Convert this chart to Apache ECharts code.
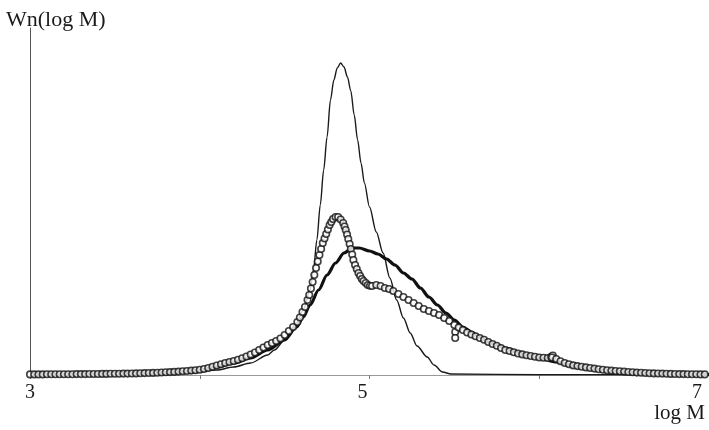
<!DOCTYPE html>
<html>
<head>
<meta charset="utf-8">
<script src="https://cdn.jsdelivr.net/npm/echarts@6/dist/echarts.min.js"></script>
<style>html,body{margin:0;padding:0;background:#fff}#c{width:709px;height:430px}</style>
</head>
<body>
<div id="c"></div>
<script>
// x tick labels
var xTickLabels = [3, 5, 7];

// Thin curve (narrow distribution)
var thinX = [3.0, 3.5, 3.8, 3.94, 4.10, 4.20, 4.30, 4.40, 4.44, 4.50, 4.57, 4.61, 4.65, 4.67, 4.69, 4.71, 4.73, 4.75, 4.77, 4.79, 4.81, 4.83, 4.85, 4.87, 4.89, 4.91, 4.93, 4.95, 4.97, 5.00, 5.04, 5.08, 5.12, 5.16, 5.20, 5.24, 5.28, 5.34, 5.38, 5.43, 5.48, 6.0, 7.0];
var thinY = [0.3, 0.5, 1, 2, 5, 8, 12, 20, 25, 35, 52, 65, 85, 105, 135, 170, 205, 238, 275, 295, 307, 312, 308, 298, 284, 260, 235, 212, 192, 168, 143, 122, 97, 75, 57, 42, 29, 18, 10, 3, 1, 0.3, 0.2];

// Thick curve (broad distribution)
var thickX = [3.0, 3.2, 3.4, 3.6, 3.8, 3.9, 4.0, 4.1, 4.2, 4.3, 4.4, 4.5, 4.57, 4.61, 4.65, 4.70, 4.75, 4.80, 4.85, 4.90, 4.94, 5.00, 5.05, 5.10, 5.15, 5.20, 5.25, 5.30, 5.35, 5.40, 5.45, 5.50, 5.55, 5.60, 5.65, 5.70, 5.75, 5.80, 5.90, 6.00, 6.10, 6.20, 6.30, 6.40, 6.50, 6.60, 6.70, 6.80, 6.90, 7.00];
var thickY = [0.5, 0.7, 1.0, 1.6, 2.6, 3.3, 5, 8, 12, 17, 25, 35, 48, 58, 70, 85, 100, 112, 122, 127, 127, 124, 121, 116, 110, 102, 96, 87, 78, 70, 62, 55, 48, 43, 38, 33, 30, 27, 21, 17, 13, 9, 6.5, 4.5, 3.2, 2.2, 1.5, 1.0, 0.7, 0.5];

// Circles (measured distribution)
var circX = [
  3.000, 3.025, 3.050, 3.075, 3.100, 3.125, 3.150, 3.175, 3.200, 3.225, 3.250, 3.275, 3.300, 3.325, 3.350, 3.375, 3.400, 3.425, 3.450, 3.475,
  3.500, 3.525, 3.550, 3.575, 3.600, 3.625, 3.650, 3.675, 3.700, 3.725, 3.750, 3.775, 3.800, 3.825, 3.850, 3.875, 3.900, 3.925, 3.950, 3.975,
  4.000, 4.025, 4.050, 4.075, 4.100, 4.125, 4.150, 4.175, 4.200, 4.225, 4.250, 4.275, 4.300, 4.325, 4.350, 4.375, 4.400, 4.425, 4.450, 4.475,
  4.500, 4.525, 4.550, 4.575, 4.590, 4.605, 4.620, 4.635, 4.645, 4.655, 4.665, 4.675, 4.685, 4.695, 4.705, 4.715, 4.725, 4.735, 4.745, 4.755,
  4.765, 4.775, 4.785, 4.800, 4.815, 4.830, 4.845, 4.853, 4.860, 4.868, 4.875, 4.883, 4.890, 4.898, 4.905, 4.915, 4.925, 4.935, 4.945, 4.955,
  4.965, 4.978, 4.990, 5.003, 5.015, 5.04, 5.065, 5.09, 5.115, 5.14, 5.17, 5.20, 5.23, 5.26, 5.29, 5.32, 5.35, 5.38, 5.41,
  5.44, 5.47, 5.50, 5.505, 5.505, 5.525, 5.550, 5.575, 5.600, 5.625, 5.650, 5.675, 5.700, 5.725, 5.750, 5.775, 5.800, 5.825, 5.850, 5.875,
  5.900, 5.925, 5.950, 5.975, 6.000, 6.025, 6.050, 6.070, 6.080, 6.075, 6.100, 6.125, 6.150, 6.175, 6.200, 6.225, 6.250, 6.275, 6.300, 6.325,
  6.350, 6.375, 6.400, 6.425, 6.450, 6.475, 6.500, 6.525, 6.550, 6.575, 6.600, 6.625, 6.650, 6.675, 6.700, 6.725, 6.750, 6.775, 6.800, 6.825,
  6.850, 6.875, 6.900, 6.925, 6.950, 6.975
];
var circY = [
  0.6, 0.6, 0.6, 0.6, 0.7, 0.7, 0.7, 0.8, 0.8, 0.8, 0.8, 0.9, 0.9, 0.9, 1.0, 1.0, 1.0, 1.1, 1.1, 1.2,
  1.2, 1.3, 1.4, 1.4, 1.5, 1.6, 1.7, 1.9, 2.0, 2.1, 2.3, 2.5, 2.7, 2.9, 3.1, 3.4, 3.7, 4.0, 4.4, 4.8,
  5.3, 6.0, 7.0, 8.2, 9.5, 10.7, 12.0, 13.0, 14.0, 15.3, 16.8, 18.5, 20.5, 22.5, 25.0, 27.5, 30.0, 32.0, 34.0, 36.5,
  40.0, 44.0, 48.0, 53, 57.5, 63, 68, 75, 80, 86.5, 93, 100, 107, 113.5, 120, 126, 132, 136.5, 141, 145.5,
  150, 153, 156, 158, 158, 155.5, 152, 148.5, 145, 140.5, 136, 131, 126, 120.5, 115, 110, 106, 102, 99, 96,
  94, 92, 90, 89.3, 89, 90, 89, 87, 86, 84, 81, 78, 75, 72, 69, 66, 64, 62, 60,
  57, 54, 50, 43, 37, 47.5, 45, 42.5, 40.5, 38.7, 37, 35.3, 33, 31, 29.3, 27, 25, 24, 22.7, 21.5,
  20.6, 19.8, 19, 18.2, 17.5, 17.2, 17, 18.2, 19.5, 17.5, 16, 13.8, 12, 10.8, 9.6, 8.9, 8.3, 7.6, 7.0, 6.4,
  5.8, 5.3, 4.8, 4.4, 4.0, 3.7, 3.4, 3.0, 2.7, 2.4, 2.2, 2.0, 1.8, 1.6, 1.5, 1.4, 1.3, 1.1, 1.0, 0.9,
  0.9, 0.8, 0.7, 0.7, 0.6, 0.6
];

function zip(a, b) { return a.map(function (v, i) { return [v, b[i]]; }); }

var serif = '"Liberation Serif", "DejaVu Serif", serif';
var chart = echarts.init(document.getElementById('c'), null, { renderer: 'canvas' });
chart.setOption({
  animation: false,
  backgroundColor: '#ffffff',
  grid: { left: 30, right: 0, top: 28, bottom: 55, containLabel: false },
  xAxis: {
    type: 'value', min: 3, max: 7, interval: 1,
    axisLine: { show: true, lineStyle: { color: '#9a9a9a', width: 1 } },
    axisTick: { show: true, length: 4, lineStyle: { color: '#777' } },
    splitLine: { show: false },
    axisLabel: {
      color: '#1a1a1a', fontFamily: serif, fontSize: 20, margin: 8,
      formatter: function (v) {
        if (xTickLabels.indexOf(v) < 0) return '';
        if (v === 5) return '{m|' + v + '}';
        if (v === 7) return '{r|' + v + '}';
        return '' + v;
      },
      rich: {
        m: { fontFamily: serif, fontSize: 20, color: '#1a1a1a', padding: [0, 14, 0, 0] },
        r: { fontFamily: serif, fontSize: 20, color: '#1a1a1a', padding: [0, 24, 0, 0] }
      }
    }
  },
  yAxis: {
    type: 'value', min: 0, max: 347,
    axisLine: { show: true, lineStyle: { color: '#555', width: 1 } },
    axisTick: { show: false },
    axisLabel: { show: false },
    splitLine: { show: false }
  },
  graphic: [
    { type: 'text', left: 6, top: 9, style: { text: 'Wn(log M)', font: '22px ' + serif, fill: '#1a1a1a' } },
    { type: 'text', right: 4, top: 403, style: { text: 'log M', font: '21px ' + serif, fill: '#1a1a1a' } }
  ],
  series: [
    {
      type: 'line', data: zip(thinX, thinY), showSymbol: false, smooth: 0.3, smoothMonotone: 'x',
      lineStyle: { color: '#1a1a1a', width: 1.4 }, z: 2
    },
    {
      type: 'line', data: zip(thickX, thickY), showSymbol: false, smooth: 0.3, smoothMonotone: 'x',
      lineStyle: { color: '#111', width: 3.2 }, z: 3
    },
    {
      type: 'scatter', data: zip(circX, circY), symbol: 'circle', symbolSize: 6.5,
      itemStyle: { color: '#ffffff', borderColor: '#111', borderWidth: 1.6 }, z: 4
    }
  ]
});
</script>
</body>
</html>
